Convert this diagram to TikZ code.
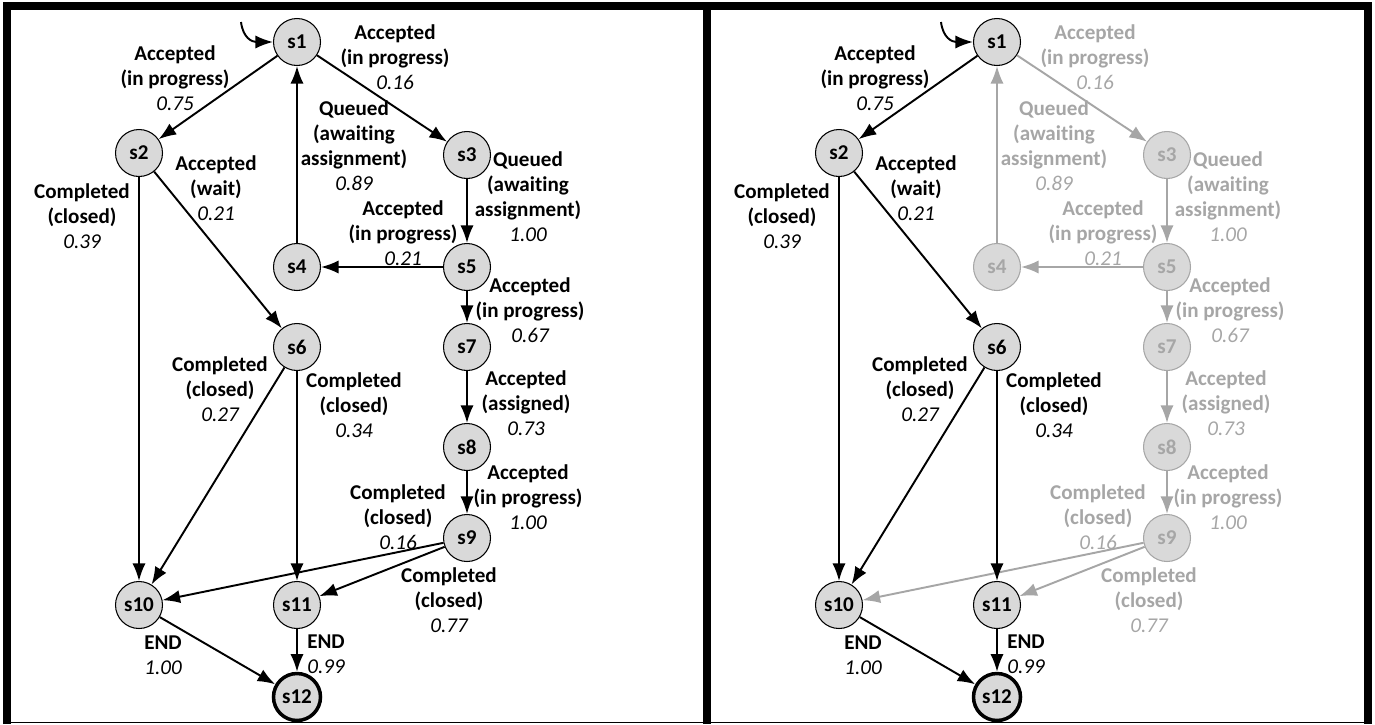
\documentclass[tikz,border=0pt]{standalone}
\usepackage{fontspec}
\setmainfont{Carlito}[Ligatures=CommonOff]
\usetikzlibrary{arrows.meta}

\definecolor{statoFondo}{HTML}{D9D9D9}
\definecolor{grigioTenue}{HTML}{A6A6A6}
\newcommand{\probval}[1]{{\mdseries\itshape #1}}

\begin{document}
\begin{tikzpicture}[x=0.02cm,y=-0.02cm,
  stato/.style={circle,draw=#1,text=#1,fill=statoFondo,line width=0.6pt,
    minimum size=0.94cm,inner sep=0pt,font=\fontsize{12}{14}\selectfont\bfseries},
  stato/.default=black,
  arco/.style={draw=#1,line width=1.1pt,-{Latex[length=10pt,width=7.5pt]}},
  arco/.default=black,
  etichetta/.style={text=#1,align=center,inner sep=0pt,
    font=\fontsize{12}{14.2}\selectfont\bfseries},
  etichetta/.default=black]
  \useasboundingbox (0,0) rectangle (1375,724);
  % Cornice: bordo spesso su tre lati, sottile in basso.
  \draw[line width=4.5pt] (7,724) -- (7,6) -- (1368,6) -- (1368,724);
  \draw[line width=4.5pt] (707,6) -- (707,724);
  \draw[line width=1pt] (7,722.6) -- (1368,722.6);
  % Stesso grafo due volte; a destra il ramo via s3 resta sbiadito.
  \foreach \dx/\pfx/\tinta in {0/L/black,700/R/grigioTenue}{
    \begin{scope}[shift={(\dx,0)},name prefix=\pfx-]
      \node[stato] (s1) at (297,42) {s1};
      \node[stato] (s2) at (139,153) {s2};
      \node[stato=\tinta] (s3) at (467,155) {s3};
      \node[stato=\tinta] (s4) at (297,267) {s4};
      \node[stato=\tinta] (s5) at (467,267) {s5};
      \node[stato] (s6) at (297,347) {s6};
      \node[stato=\tinta] (s7) at (467,347) {s7};
      \node[stato=\tinta] (s8) at (467,447) {s8};
      \node[stato=\tinta] (s9) at (467,538) {s9};
      \node[stato] (s10) at (139,605) {s10};
      \node[stato] (s11) at (297,605) {s11};
      \node[stato,line width=2pt] (s12) at (297,697) {s12};
      % Prima il ramo che a destra e' sbiadito, poi il percorso principale.
      \draw[arco=\tinta] (s1) -- (s3);
      \draw[arco=\tinta] (s4) -- (s1);
      \draw[arco=\tinta] (s3) -- (s5);
      \draw[arco=\tinta] (s5) -- (s4);
      \draw[arco=\tinta] (s5) -- (s7);
      \draw[arco=\tinta] (s7) -- (s8);
      \draw[arco=\tinta] (s8) -- (s9);
      \draw[arco=\tinta] (s9) -- (s10);
      \draw[arco=\tinta] (s9) -- (s11);
      \coordinate (ini) at (241,22);
      \draw[arco] (ini) .. controls (243,38) and (252,42) .. (s1.west);
      \draw[arco] (s1) -- (s2);
      \draw[arco] (s2) -- (s10);
      \draw[arco] (s2) -- (s6);
      \draw[arco] (s6) -- (s10);
      \draw[arco] (s6) -- (s11);
      \draw[arco] (s10) -- (s12);
      \draw[arco] (s11) -- (s12);
      % Etichette: evento, stato del ticket, probabilita'.
      \node[etichetta] (e1-2) at (175,78) {Accepted\\(in progress)\\\probval{0.75}};
      \node[etichetta=\tinta] (e1-3) at (395,57) {Accepted\\(in progress)\\\probval{0.16}};
      \node[etichetta=\tinta] (e4-1) at (354,146) {Queued\\(awaiting\\assignment)\\\probval{0.89}};
      \node[etichetta] (e2-6) at (216,188) {Accepted\\(wait)\\\probval{0.21}};
      \node[etichetta] (e2-10) at (82,216) {Completed\\(closed)\\\probval{0.39}};
      \node[etichetta=\tinta] (e3-5) at (528,197) {Queued\\(awaiting\\assignment)\\\probval{1.00}};
      \node[etichetta=\tinta] (e5-4) at (403,233) {Accepted\\(in progress)\\\probval{0.21}};
      \node[etichetta=\tinta] (e5-7) at (530,310) {Accepted\\(in progress)\\\probval{0.67}};
      \node[etichetta] (e6-10) at (220,389) {Completed\\(closed)\\\probval{0.27}};
      \node[etichetta] (e6-11) at (354,405) {Completed\\(closed)\\\probval{0.34}};
      \node[etichetta=\tinta] (e7-8) at (526,403) {Accepted\\(assigned)\\\probval{0.73}};
      \node[etichetta=\tinta] (e8-9) at (528,497) {Accepted\\(in progress)\\\probval{1.00}};
      \node[etichetta=\tinta] (e9-10) at (398,517) {Completed\\(closed)\\\probval{0.16}};
      \node[etichetta=\tinta] (e9-11) at (449,600) {Completed\\(closed)\\\probval{0.77}};
      \node[etichetta] (e10-12) at (163,655) {END\\\probval{1.00}};
      \node[etichetta] (e11-12) at (326,654) {END\\\probval{0.99}};
    \end{scope}
  }
\end{tikzpicture}
\end{document}
